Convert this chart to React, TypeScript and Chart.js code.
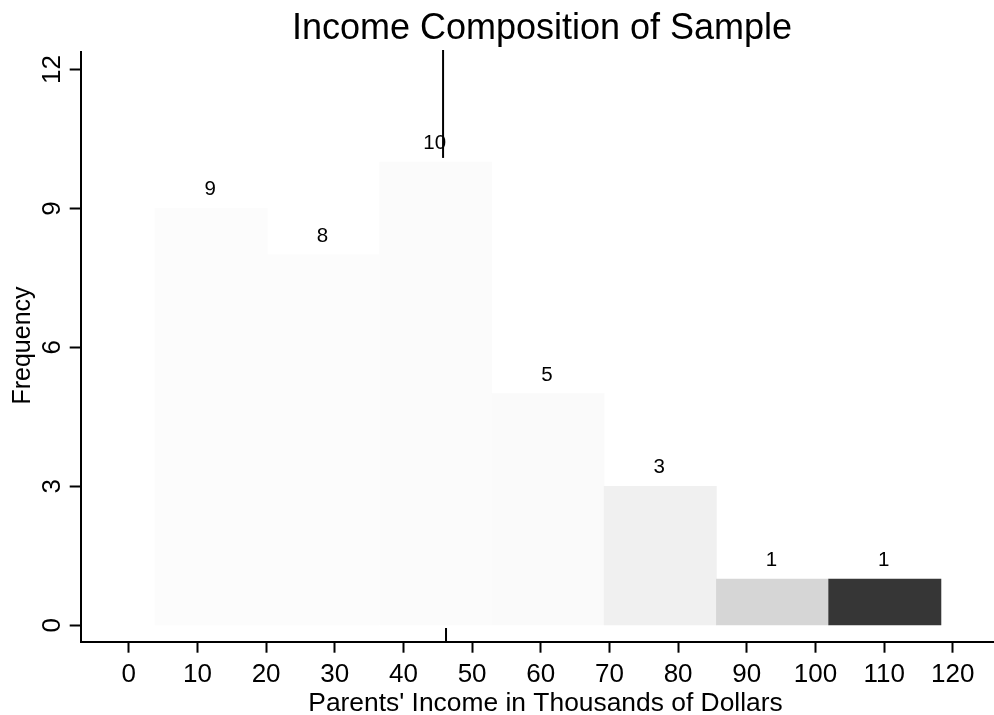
import { useEffect, useRef } from 'react';
import { Chart, registerables } from 'chart.js';

Chart.register(...registerables);

const FONT = "'Liberation Sans', Arial, Helvetica, sans-serif";

const chartTitle = 'Income Composition of Sample';
const xAxisTitle = "Parents' Income in Thousands of Dollars";
const yAxisTitle = 'Frequency';

// histogram bins (midpoints, thousands of dollars) and counts
const binCenters = [12.0, 28.35, 44.7, 61.05, 77.4, 93.75, 110.1];
const frequencies = [9, 8, 10, 5, 3, 1, 1];
const countLabels = ['9', '8', '10', '5', '3', '1', '1'];

// axis ranges and tick steps
const xRange = [-7.0, 126.0];
const yRange = [-0.354, 12.37];
const xTickStep = 10;
const yTickStep = 3;

// stray vertical marker lines visible in the figure
const upperMarker = [
  { x: 45.77, y: 10.09 },
  { x: 45.77, y: 12.42 },
];
const lowerMarker = [
  { x: 46.2, y: -0.06 },
  { x: 46.2, y: -0.354 },
];

const barColors = ['#fcfcfc', '#fcfcfc', '#fbfbfb', '#fafafa', '#f0f0f0', '#d6d6d6', '#363636'];

const textPlugin = {
  id: 'textPlugin',
  afterDraw(chart: any) {
    const ctx = chart.ctx as CanvasRenderingContext2D;
    const yScale = chart.scales.y;
    ctx.save();
    ctx.fillStyle = '#000';

    // main title
    ctx.font = `36px ${FONT}`;
    ctx.textAlign = 'center';
    ctx.textBaseline = 'alphabetic';
    ctx.fillText(chartTitle, 542, 39);

    // x axis title
    ctx.font = `26.4px ${FONT}`;
    ctx.fillText(xAxisTitle, 545.5, 711);

    // y axis title (rotated)
    ctx.save();
    ctx.translate(29.5, 345.5);
    ctx.rotate(-Math.PI / 2);
    ctx.font = `25px ${FONT}`;
    ctx.textAlign = 'center';
    ctx.textBaseline = 'alphabetic';
    ctx.fillText(yAxisTitle, 0, 0);
    ctx.restore();

    // y tick labels (rotated)
    ctx.font = `26px ${FONT}`;
    for (const t of yScale.ticks) {
      const py = yScale.getPixelForValue(t.value);
      ctx.save();
      ctx.translate(60, py);
      ctx.rotate(-Math.PI / 2);
      ctx.textAlign = 'center';
      ctx.textBaseline = 'alphabetic';
      ctx.fillText(String(t.value), 0, 0);
      ctx.restore();
    }

    // count labels above bars
    const meta = chart.getDatasetMeta(0);
    ctx.font = `20.5px ${FONT}`;
    ctx.textAlign = 'center';
    ctx.textBaseline = 'alphabetic';
    meta.data.forEach((el: any, i: number) => {
      ctx.fillText(countLabels[i], el.x - 1, el.y - 13);
    });
    ctx.restore();
  },
};

export default function App() {
  const ref = useRef<HTMLCanvasElement | null>(null);

  useEffect(() => {
    if (!ref.current) return;
    const chart = new Chart(ref.current, {
      type: 'bar',
      data: {
        datasets: [
          {
            type: 'bar',
            data: binCenters.map((x, i) => ({ x, y: frequencies[i] })),
            backgroundColor: barColors,
            borderWidth: 0,
            barThickness: 'flex',
            barPercentage: 1,
            categoryPercentage: 1,
          } as any,
          {
            type: 'line',
            data: upperMarker,
            borderColor: '#000',
            borderWidth: 2,
            pointRadius: 0,
            clip: false,
          } as any,
          {
            type: 'line',
            data: lowerMarker,
            borderColor: '#000',
            borderWidth: 2,
            pointRadius: 0,
            clip: false,
          } as any,
        ],
      },
      options: {
        responsive: false,
        animation: false,
        layout: { padding: { top: 52.3, left: 0, right: 0, bottom: 0 } },
        plugins: {
          legend: { display: false },
          title: { display: false },
          tooltip: { enabled: false },
        },
        scales: {
          x: {
            type: 'linear',
            min: xRange[0],
            max: xRange[1],
            offset: false,
            grid: {
              offset: false,
              drawOnChartArea: false,
              drawTicks: true,
              tickLength: 11,
              tickColor: '#000',
              tickWidth: 2,
            },
            border: { display: true, color: '#000', width: 2 },
            ticks: {
              stepSize: xTickStep,
              includeBounds: false,
              color: '#000',
              padding: 7,
              maxRotation: 0,
              minRotation: 0,
              font: { family: FONT, size: 26 },
            },
            afterFit: (scale: any) => {
              scale.height = 715 - 641.7;
            },
          },
          y: {
            type: 'linear',
            min: yRange[0],
            max: yRange[1],
            grid: {
              drawOnChartArea: false,
              drawTicks: true,
              tickLength: 11,
              tickColor: '#000',
              tickWidth: 2,
            },
            border: { display: true, color: '#000', width: 2 },
            ticks: {
              stepSize: yTickStep,
              includeBounds: false,
              display: false,
            },
            afterFit: (scale: any) => {
              scale.width = 80.7;
            },
          },
        },
      } as any,
      plugins: [textPlugin],
    });
    return () => chart.destroy();
  }, []);

  return (
    <div style={{ position: 'absolute', left: 0, top: 0, width: 994, height: 715, background: '#fff' }}>
      <canvas ref={ref} width={994} height={715} style={{ width: 994, height: 715, display: 'block' }} />
    </div>
  );
}
